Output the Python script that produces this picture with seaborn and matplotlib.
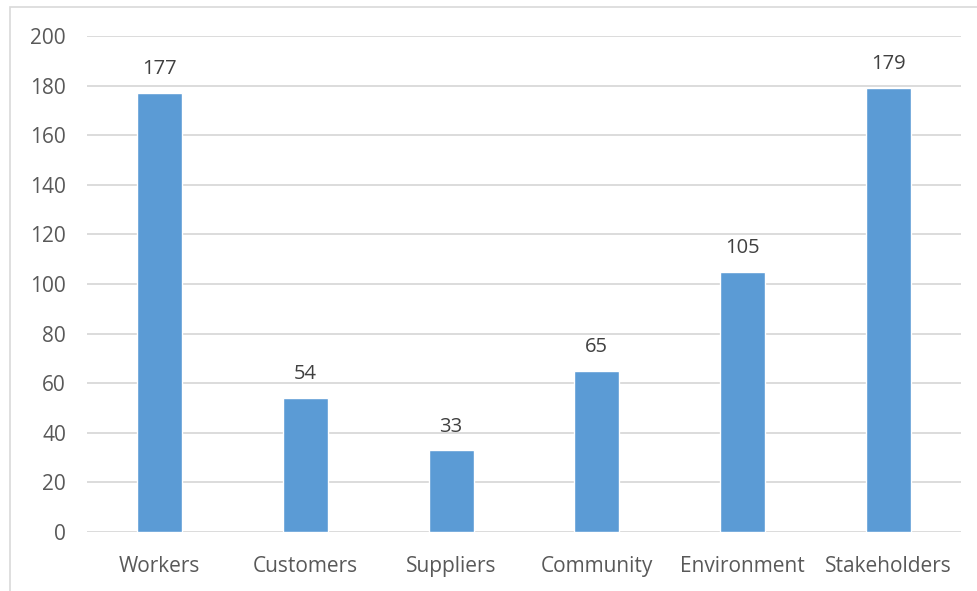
import pandas as pd
import matplotlib.pyplot as plt
import seaborn as sns
from matplotlib.patches import Rectangle

categories = ['Workers', 'Customers', 'Suppliers', 'Community', 'Environment', 'Stakeholders']
counts = [177, 54, 33, 65, 105, 179]

df = pd.DataFrame(dict(category=categories, count=counts))

sns.set_style('white')
plt.rcParams['font.family'] = ['Open Sans', 'DejaVu Sans']

fig = plt.figure(figsize=(9.77, 5.91), dpi=100)
ax = fig.add_axes([0.089, 0.0998, 0.8946, 0.8392])

# outer chart frame
fig.patches.append(Rectangle((10 / 977, -0.01), 1.0, 1 - 7 / 591 + 0.01, transform=fig.transFigure,
                             fill=False, edgecolor='#D9D9D9', linewidth=1.2))

sns.barplot(data=df, x='category', y='count', color='#5B9BD5', width=0.31,
            saturation=1, ax=ax, zorder=3)

for i, v in enumerate(counts):
    ax.text(i, v + 5.5, str(v), ha='center', va='bottom', fontsize=14.5, color='#404040')

ax.set_ylim(0, 200)
ax.set_yticks(range(0, 201, 20))
ax.set_xlim(-0.5, 5.5)
ax.yaxis.grid(True, color='#D9D9D9', linewidth=1.3, zorder=0)
ax.set_axisbelow(True)
for s in ax.spines.values():
    s.set_visible(False)
ax.set_xlabel('')
ax.set_ylabel('')
ax.tick_params(axis='both', length=0, labelsize=15, labelcolor='#595959')
ax.tick_params(axis='y', pad=15)
ax.tick_params(axis='x', pad=17)

fig.savefig('out.png', dpi=100)
